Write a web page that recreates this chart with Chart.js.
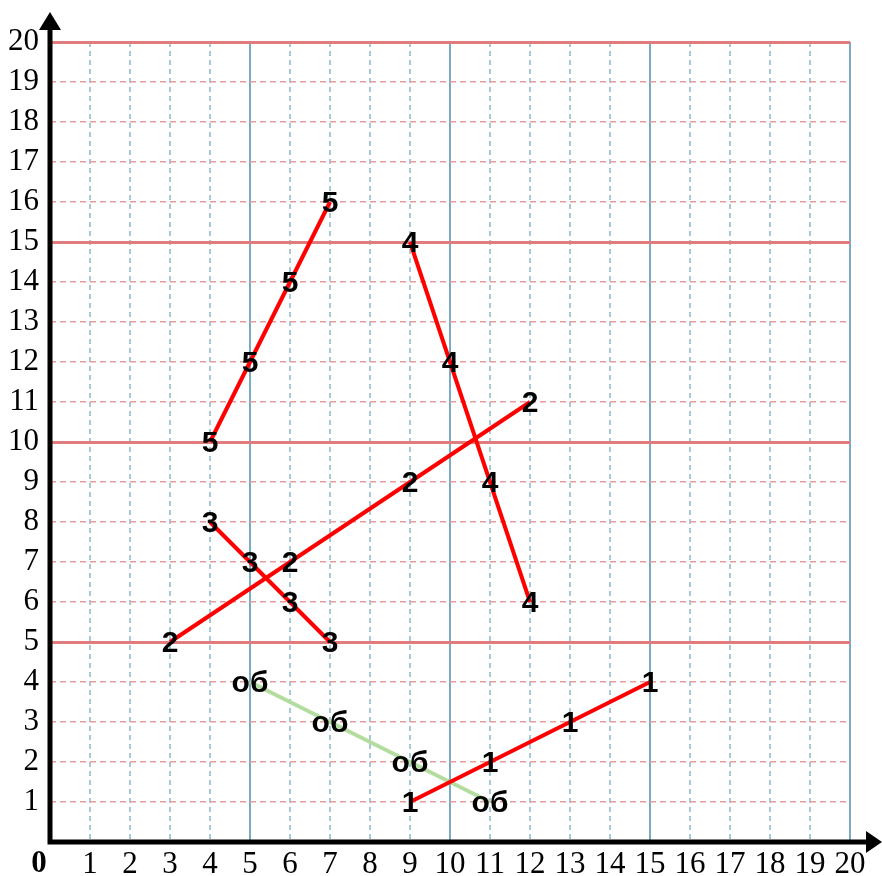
<!DOCTYPE html>
<html>
<head>
<meta charset="utf-8">
<script src="https://cdn.jsdelivr.net/npm/chart.js@4/dist/chart.umd.min.js"></script>
<style>
  html, body { margin: 0; padding: 0; background: #fff; }
  #wrap { width: 882px; height: 876px; }
</style>
</head>
<body>
<div id="wrap"><canvas id="chart"></canvas></div>
<script>
// series: name shown at each point, x values, y values
var seriesNames = ['5', '4', '2', '3', '1', 'об'];
var xs5 = [4, 5, 6, 7],    ys5 = [10, 12, 14, 16];
var xs4 = [9, 10, 11, 12], ys4 = [15, 12, 9, 6];
var xs2 = [3, 6, 9, 12],   ys2 = [5, 7, 9, 11];
var xs3 = [4, 5, 6, 7],    ys3 = [8, 7, 6, 5];
var xs1 = [9, 11, 13, 15], ys1 = [1, 2, 3, 4];
var xsOb = [5, 7, 9, 11],  ysOb = [4, 3, 2, 1];
var axisMin = 0, axisMax = 20;

function pts(xs, ys) {
    return xs.map(function(x, i){ return {x: x, y: ys[i]}; });
}

var RED = '#ff0000';
var GREEN = '#b3dca0';

function ds(name, xs, ys, color) {
    return {
        label: name,
        data: pts(xs, ys),
        showLine: true,
        borderColor: color,
        backgroundColor: color,
        borderWidth: 4,
        pointRadius: 0,
        tension: 0
    };
}

// draws the labels at every point, the axes with arrows and the bold 0
var decor = {
    id: 'decor',
    afterDatasetsDraw: function(chart) {
        var ctx = chart.ctx;
        ctx.save();
        ctx.fillStyle = '#000';
        ctx.font = 'bold 30px "Liberation Sans", Arial, sans-serif';
        ctx.textAlign = 'center';
        ctx.textBaseline = 'middle';
        chart.data.datasets.forEach(function(d, i){
            chart.getDatasetMeta(i).data.forEach(function(el){
                ctx.fillText(d.label, el.x, el.y + 2);
            });
        });
        ctx.restore();
    },
    afterDraw: function(chart) {
        var ctx = chart.ctx;
        var x0 = chart.scales.x.getPixelForValue(0);
        var y0 = chart.scales.y.getPixelForValue(0);
        ctx.save();
        ctx.strokeStyle = '#000';
        ctx.fillStyle = '#000';
        ctx.lineWidth = 5;
        ctx.beginPath();
        ctx.moveTo(x0, y0 + 2.5);
        ctx.lineTo(x0, 30);
        ctx.moveTo(x0 - 2.5, y0);
        ctx.lineTo(866, y0);
        ctx.stroke();
        ctx.beginPath();
        ctx.moveTo(x0, 12);
        ctx.lineTo(x0 - 11, 30);
        ctx.lineTo(x0 + 11, 30);
        ctx.closePath();
        ctx.fill();
        ctx.beginPath();
        ctx.moveTo(882, y0);
        ctx.lineTo(866, y0 - 11);
        ctx.lineTo(866, y0 + 11);
        ctx.closePath();
        ctx.fill();
        ctx.font = 'bold 31px "Liberation Serif", "Times New Roman", serif';
        ctx.textAlign = 'center';
        ctx.textBaseline = 'middle';
        ctx.fillText('0', x0 - 11, y0 + 22);
        ctx.restore();
    }
};

function isMajor(c) { return c.tick && c.tick.value % 5 === 0; }

new Chart(document.getElementById('chart'), {
    type: 'scatter',
    data: {
        datasets: [
            ds(seriesNames[0], xs5, ys5, RED),
            ds(seriesNames[1], xs4, ys4, RED),
            ds(seriesNames[2], xs2, ys2, RED),
            ds(seriesNames[3], xs3, ys3, RED),
            ds(seriesNames[4], xs1, ys1, RED),
            ds(seriesNames[5], xsOb, ysOb, GREEN)
        ]
    },
    options: {
        responsive: true,
        maintainAspectRatio: false,
        animation: false,
        layout: { padding: { top: 42, right: 32, left: 0, bottom: 0 } },
        plugins: { legend: { display: false }, tooltip: { enabled: false } },
        scales: {
            x: {
                type: 'linear',
                min: axisMin, max: axisMax,
                afterFit: function(s){ s.height = 34; },
                ticks: {
                    stepSize: 1,
                    autoSkip: false,
                    maxRotation: 0,
                    padding: 4,
                    color: '#000',
                    font: { family: '"Liberation Serif", "Times New Roman", serif', size: 31 },
                    callback: function(v){ return v === 0 ? '' : v; }
                },
                grid: {
                    drawTicks: false,
                    color: function(c){ return isMajor(c) ? '#7aadc2' : '#a8c8d6'; },
                    lineWidth: function(c){ return isMajor(c) ? 2 : 2; }
                },
                border: {
                    display: false,
                    dash: function(c){ return isMajor(c) ? [] : [5, 4]; }
                }
            },
            y: {
                type: 'linear',
                min: axisMin, max: axisMax,
                afterFit: function(s){ s.width = 50; },
                ticks: {
                    stepSize: 1,
                    autoSkip: false,
                    padding: 11,
                    color: '#000',
                    font: { family: '"Liberation Serif", "Times New Roman", serif', size: 31 },
                    callback: function(v){ return v === 0 ? '' : v; }
                },
                grid: {
                    drawTicks: false,
                    color: function(c){ return isMajor(c) ? '#e07c7c' : '#e49c9c'; },
                    lineWidth: function(c){ return isMajor(c) ? 3 : 1.5; }
                },
                border: {
                    display: false,
                    dash: function(c){ return isMajor(c) ? [] : [6, 4]; }
                }
            }
        }
    },
    plugins: [decor]
});
</script>
</body>
</html>
